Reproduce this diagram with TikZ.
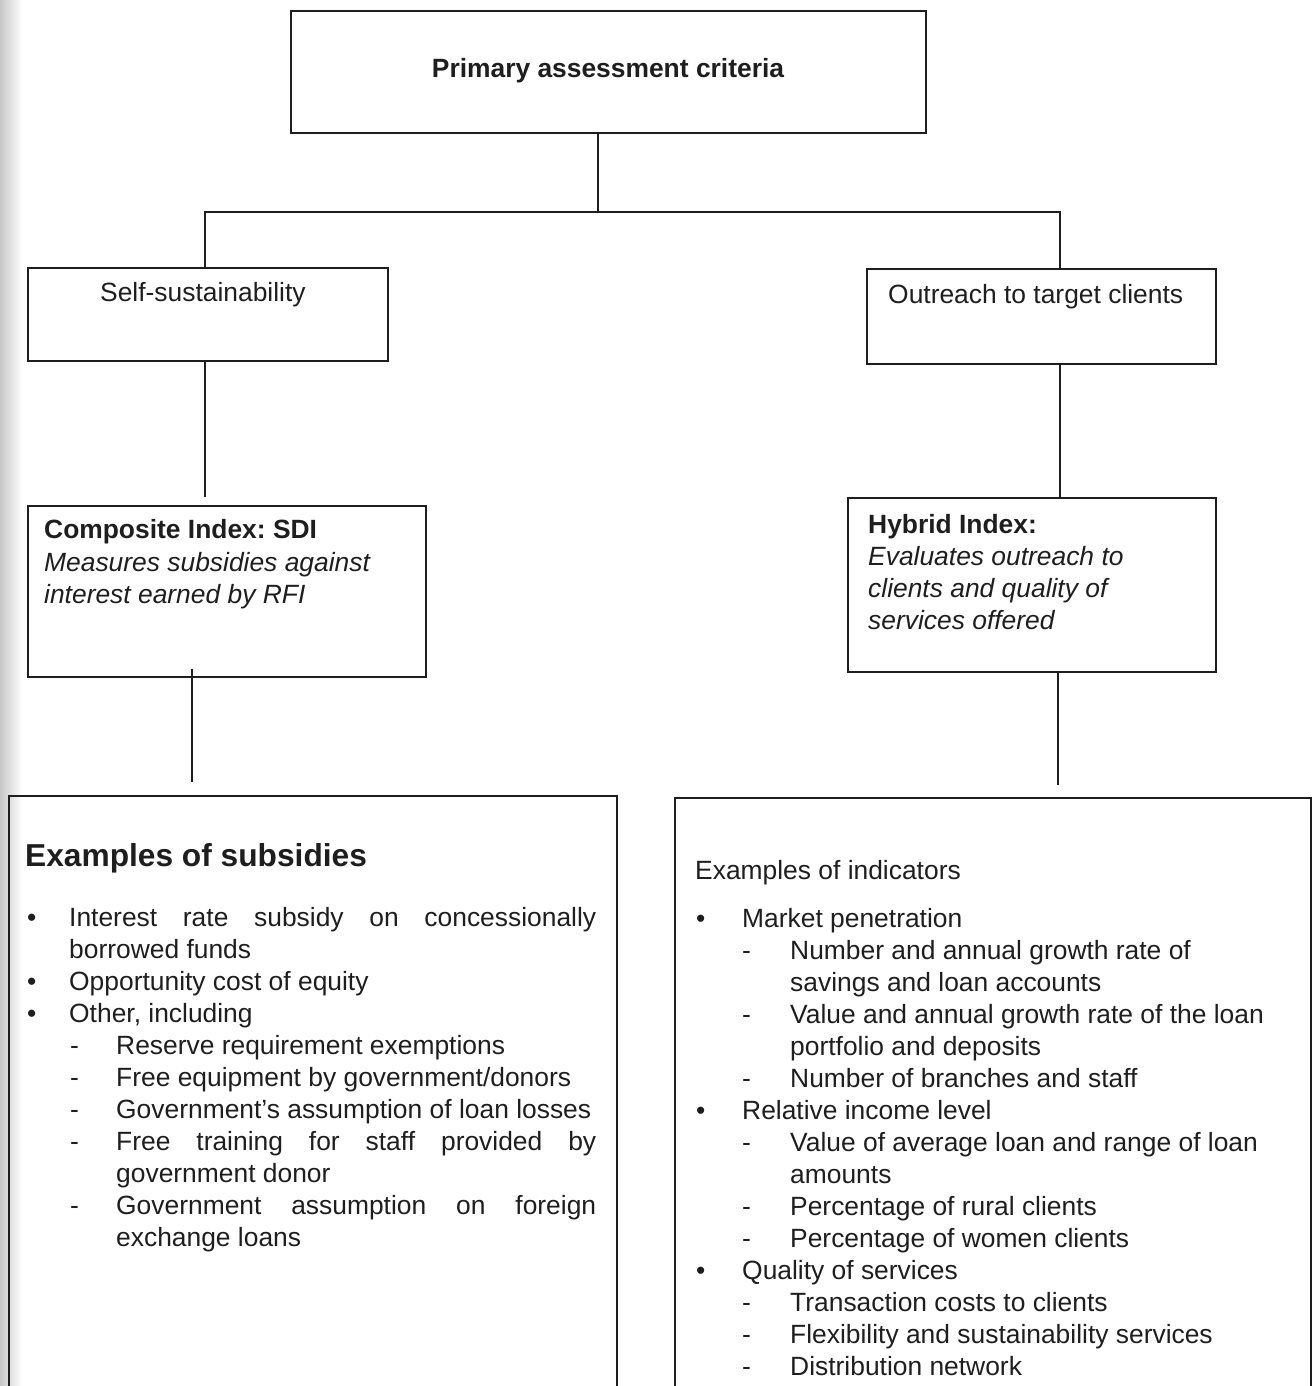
\documentclass[tikz,border=0pt]{standalone}
\usepackage{fontspec}
\setmainfont{Liberation Sans}
\frenchspacing
\definecolor{ink}{HTML}{1E1E1E}
\tikzset{
  box/.style={draw=ink, line width=1.6pt, inner sep=0pt, anchor=north west},
  conn/.style={draw=ink, line width=1.4pt},
  txt/.style={anchor=base west, inner sep=0pt, text=ink, font=\fontsize{26.4}{32}\selectfont},
  btxt/.style={txt, font=\bfseries\fontsize{26.4}{32}\selectfont},
  itxt/.style={txt, font=\itshape\fontsize{26.4}{32}\selectfont},
}
\newcommand\mkline[4]{\node[txt] (#1) at (#2,#3) {#4};}
\begin{document}
\begin{tikzpicture}[x=1pt,y=-1pt]
\useasboundingbox (0,0) rectangle (1315,1386);
\clip (0,0) rectangle (1315,1386);
\shade[left color=black!22, right color=white] (0,0) rectangle (22,1386);

% boxes
\node[box, minimum width=635, minimum height=122] (prim) at (290,10) {};
\node[box, minimum width=360, minimum height=93]  (self) at (27,267) {};
\node[box, minimum width=349, minimum height=95]  (out)  at (866,268) {};
\node[box, minimum width=398, minimum height=171] (comp) at (27,505) {};
\node[box, minimum width=368, minimum height=174] (hyb)  at (847,497) {};
\node[box, minimum width=608, minimum height=640] (subs) at (8,795) {};
\node[box, minimum width=636, minimum height=640] (ind)  at (674,797) {};

% connectors
\coordinate (j)  at (598,212);
\coordinate (jl) at (205,212);
\coordinate (jr) at (1060,212);
\coordinate (kl) at (192,700);
\coordinate (kr) at (1058,700);
\coordinate (ct) at ([yshift=8pt]comp.north);
\coordinate (cb) at ([yshift=9pt]comp.south);
\coordinate (st) at ([yshift=13pt]subs.north);
\coordinate (it) at ([yshift=12pt]ind.north);
\draw[conn] (prim.south -| j) -- (j);
\draw[conn] (self.north -| jl) -- (jl) -- (jr) -- (out.north -| jr);
\draw[conn] (self.south -| jl) -- (ct -| jl);
\draw[conn] (out.south -| jr) -- (hyb.north -| jr);
\draw[conn] (cb -| kl) -- (st -| kl);
\draw[conn] (hyb.south -| kr) -- (it -| kr);

% upper texts
\node[btxt, anchor=base] (tprim) at (608,78) {Primary assessment criteria};
\node[txt] (tself) at (100,301) {Self-sustainability};
\node[txt] (tout) at (888,303) {Outreach to target clients};
\node[btxt] (tc1) at (44,538) {Composite Index: SDI};
\node[itxt] (tc2) at (44,571) {Measures subsidies against};
\node[itxt] (tc3) at (44,603) {interest earned by RFI};
\node[btxt] (th1) at (868,533) {Hybrid Index:};
\node[itxt] (th2) at (868,565) {Evaluates outreach to};
\node[itxt] (th3) at (868,597) {clients and quality of};
\node[itxt] (th4) at (868,629) {services offered};

% left list
\node[txt, font=\bfseries\fontsize{31.7}{38}\selectfont] (sh) at (25,866) {Examples of subsidies};
\mkline{lb1}{27}{926}{\textbullet}
\mkline{lt1}{69}{926}{\makebox[527pt][s]{Interest rate subsidy on concessionally}}
\mkline{lt2}{69}{958}{borrowed funds}
\mkline{lb2}{27}{990}{\textbullet}
\mkline{lt3}{69}{990}{Opportunity cost of equity}
\mkline{lb3}{27}{1022}{\textbullet}
\mkline{lt4}{69}{1022}{Other, including}
\mkline{ld1}{70}{1054}{-}
\mkline{lt5}{116}{1054}{Reserve requirement exemptions}
\mkline{ld2}{70}{1086}{-}
\mkline{lt6}{116}{1086}{Free equipment by government/donors}
\mkline{ld3}{70}{1118}{-}
\mkline{lt7}{116}{1118}{Government’s assumption of loan losses}
\mkline{ld4}{70}{1150}{-}
\mkline{lt8}{116}{1150}{\makebox[480pt][s]{Free training for staff provided by}}
\mkline{lt9}{116}{1182}{government donor}
\mkline{ld5}{70}{1214}{-}
\mkline{lt10}{116}{1214}{\makebox[480pt][s]{Government assumption on foreign}}
\mkline{lt11}{116}{1246}{exchange loans}

% right list
\mkline{rh}{695}{879}{Examples of indicators}
\mkline{rb1}{696}{927}{\textbullet}
\mkline{rt1}{742}{927}{Market penetration}
\mkline{rd1}{742}{959}{-}
\mkline{rt2}{790}{959}{Number and annual growth rate of}
\mkline{rt3}{790}{991}{savings and loan accounts}
\mkline{rd2}{742}{1023}{-}
\mkline{rt4}{790}{1023}{Value and annual growth rate of the loan}
\mkline{rt5}{790}{1055}{portfolio and deposits}
\mkline{rd3}{742}{1087}{-}
\mkline{rt6}{790}{1087}{Number of branches and staff}
\mkline{rb2}{696}{1119}{\textbullet}
\mkline{rt7}{742}{1119}{Relative income level}
\mkline{rd4}{742}{1151}{-}
\mkline{rt8}{790}{1151}{Value of average loan and range of loan}
\mkline{rt9}{790}{1183}{amounts}
\mkline{rd5}{742}{1215}{-}
\mkline{rt10}{790}{1215}{Percentage of rural clients}
\mkline{rd6}{742}{1247}{-}
\mkline{rt11}{790}{1247}{Percentage of women clients}
\mkline{rb3}{696}{1279}{\textbullet}
\mkline{rt12}{742}{1279}{Quality of services}
\mkline{rd7}{742}{1311}{-}
\mkline{rt13}{790}{1311}{Transaction costs to clients}
\mkline{rd8}{742}{1343}{-}
\mkline{rt14}{790}{1343}{Flexibility and sustainability services}
\mkline{rd9}{742}{1375}{-}
\mkline{rt15}{790}{1375}{Distribution network}
\end{tikzpicture}
\end{document}
